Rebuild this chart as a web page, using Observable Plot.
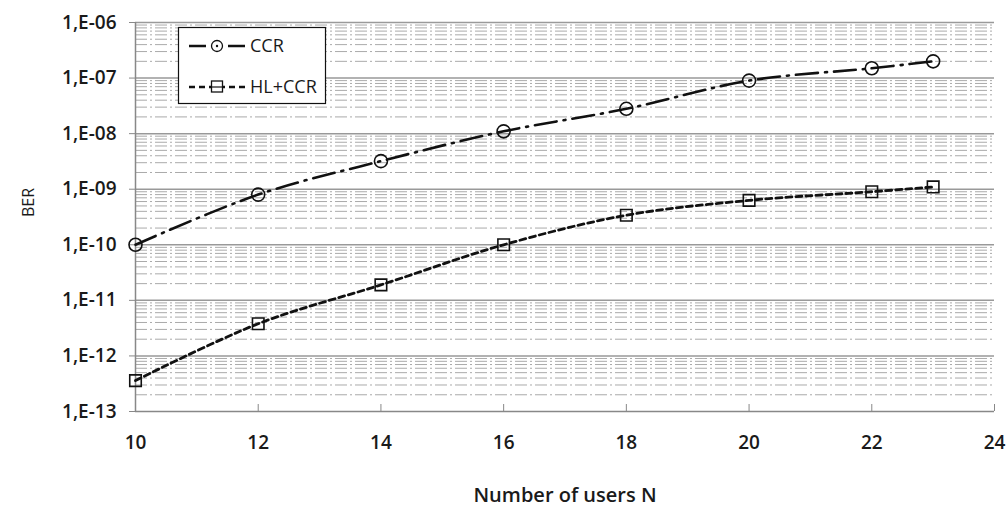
<!DOCTYPE html>
<html>
<head>
<meta charset="utf-8">
<script src="https://cdn.jsdelivr.net/npm/d3@7"></script>
<script src="https://cdn.jsdelivr.net/npm/@observablehq/plot@0.6"></script>
<style>
  html, body { margin: 0; padding: 0; background: #fff; }
  #wrap { position: relative; width: 1007px; height: 510px; font-family: "Open Sans", sans-serif; }
  #legend { position: absolute; left: 0; top: 0; pointer-events: none; }
</style>
</head>
<body>
<div id="wrap"></div>
<script>
// ---- data ----
const users = [10, 12, 14, 16, 18, 20, 22, 23];
const berCCR = [1.0e-10, 8.0e-10, 3.2e-9, 1.1e-8, 2.8e-8, 9.0e-8, 1.5e-7, 2.0e-7];
const berHLCCR = [3.6e-13, 3.8e-12, 1.9e-11, 1.0e-10, 3.4e-10, 6.3e-10, 9.0e-10, 1.1e-9];
const seriesNames = ["CCR", "HL+CCR"];
const xTicks = [10, 12, 14, 16, 18, 20, 22, 24];
const yExponents = [-13, -12, -11, -10, -9, -8, -7, -6];
const xLabel = "Number of users N";
const yLabel = "BER";

const majorTicks = yExponents.map(e => Math.pow(10, e));
const minorTicks = [];
for (const e of yExponents.slice(0, -1)) for (let k = 2; k <= 9; k++) minorTicks.push(k * Math.pow(10, e));
const fmtY = v => { const e = Math.round(Math.log10(v)); return "1,E-" + String(-e).padStart(2, "0"); };

const ccr = users.map((x, i) => ({x, y: berCCR[i]}));
const hl = users.map((x, i) => ({x, y: berHLCCR[i]}));

const ink = "#111";
const txt = "#1a1a1a";
const chart = Plot.plot({
  width: 1007,
  height: 510,
  marginTop: 22,
  marginRight: 13,
  marginBottom: 99,
  marginLeft: 135,
  style: {fontFamily: "'Open Sans', sans-serif", fontSize: "19px", color: txt, background: "#fff"},
  x: {domain: [10, 24]},
  y: {type: "log", domain: [1e-13, 1e-6]},
  marks: [
    Plot.ruleY(minorTicks, {stroke: "#aaa", strokeWidth: 1, strokeDasharray: "12,3,2,3"}),
    Plot.ruleY(majorTicks.slice(1), {stroke: "#999", strokeWidth: 1.5}),
    Plot.ruleY([1e-13], {stroke: "#888", strokeWidth: 1.5}),
    Plot.ruleX([10], {stroke: "#888", strokeWidth: 1.5}),
    Plot.axisY({ticks: majorTicks, tickSize: 6, text: null, stroke: "#888", label: null}),
    Plot.axisX({ticks: xTicks, tickSize: -7, text: null, stroke: "#888", label: null}),
    Plot.text(majorTicks, {y: d => d, text: fmtY, frameAnchor: "left", dx: -19, textAnchor: "end", fontSize: 19, fontWeight: 600, fill: txt}),
    Plot.text(xTicks, {x: d => d, text: d => String(d), frameAnchor: "bottom", dy: 37, fontSize: 19, fontWeight: 600, fill: txt}),
    Plot.line(ccr, {x: "x", y: "y", curve: "catmull-rom", stroke: ink, strokeWidth: 2.6, strokeDasharray: "22,7,2,7"}),
    Plot.line(hl, {x: "x", y: "y", curve: "catmull-rom", stroke: ink, strokeWidth: 2.8, strokeDasharray: "6,4"}),
    Plot.dot(ccr, {x: "x", y: "y", r: 6.5, stroke: ink, strokeWidth: 1.6, fill: "none"}),
    Plot.dot(hl, {x: "x", y: "y", symbol: "square", r: 6.5, stroke: ink, strokeWidth: 1.6, fill: "none"}),
    Plot.text([yLabel], {frameAnchor: "left", dx: -107, rotate: -90, fontSize: 16, fontWeight: 400, fill: txt, letterSpacing: 1}),
    Plot.text([xLabel], {frameAnchor: "bottom", dy: 90, fontSize: 20, fontWeight: 600, fill: txt})
  ]
});
const wrap = document.getElementById("wrap");
wrap.appendChild(chart);

// ---- legend ----
const ns = "http://www.w3.org/2000/svg";
const lg = document.createElementNS(ns, "svg");
lg.setAttribute("id", "legend");
lg.setAttribute("width", 1007);
lg.setAttribute("height", 510);
const el = (tag, attrs) => { const n = document.createElementNS(ns, tag); for (const k in attrs) n.setAttribute(k, attrs[k]); lg.appendChild(n); return n; };
el("rect", {x: 178.5, y: 27.5, width: 147, height: 76, fill: "#fff", stroke: ink, "stroke-width": 1.2});
const rows = [{y: 46, dash: null, sym: "circle"}, {y: 87, dash: "6,4", sym: "square"}];
rows.forEach((r, i) => {
  el("line", {x1: 189, x2: 245, y1: r.y, y2: r.y, stroke: ink, "stroke-width": 2.6, ...(r.dash ? {"stroke-dasharray": r.dash} : {"stroke-dasharray": "17,22,17"})});
  if (r.sym === "circle") {
    el("circle", {cx: 217, cy: r.y, r: 5.5, fill: "#fff", stroke: ink, "stroke-width": 1.3});
    el("circle", {cx: 217, cy: r.y, r: 1.2, fill: ink});
  } else {
    el("rect", {x: 211.5, y: r.y - 6, width: 11, height: 11, fill: "#fff", stroke: ink, "stroke-width": 1.3});
    el("line", {x1: 211.5, x2: 222.5, y1: r.y, y2: r.y, stroke: ink, "stroke-width": 1.2});
  }
  const t = el("text", {x: 250, y: r.y + 6, fill: txt, "font-size": 18, "font-family": "'Open Sans', sans-serif"});
  t.textContent = seriesNames[i];
});
wrap.appendChild(lg);
</script>
</body>
</html>
